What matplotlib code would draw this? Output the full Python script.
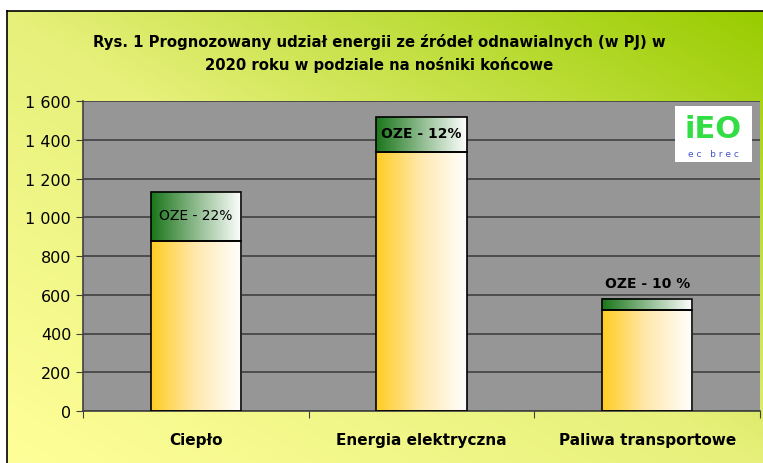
import numpy as np
import matplotlib.pyplot as plt
from matplotlib.colors import LinearSegmentedColormap
from matplotlib.patches import Rectangle

# data (PJ)
categories = ["Ciepło", "Energia elektryczna", "Paliwa transportowe"]
base_values = [880, 1335, 520]
oze_values = [250, 180, 60]
oze_labels = ["OZE - 22%", "OZE - 12%", "OZE - 10 %"]
yticks = [0, 200, 400, 600, 800, 1000, 1200, 1400, 1600]

title = ("Rys. 1 Prognozowany udział energii ze źródeł odnawialnych (w PJ) w\n"
         "2020 roku w podziale na nośniki końcowe")

plt.rcParams['font.family'] = ['DejaVu Sans']

fig = plt.figure(figsize=(7.63, 4.64), dpi=100)
fig.patch.set_facecolor("white")

# background panel with diagonal yellow->green gradient
bg = fig.add_axes([7 / 763, 0, 756 / 763, 452 / 464])
xx, yy = np.meshgrid(np.linspace(0, 1, 200), np.linspace(1, 0, 200))
bg_cmap = LinearSegmentedColormap.from_list("bg", ["#FFFF99", "#E6F07A", "#99CC00"])
bg.imshow((xx + yy) / 2, cmap=bg_cmap, extent=[0, 1, 0, 1], aspect="auto", vmin=0, vmax=1)
bg.set_xticks([])
bg.set_yticks([])
for s in ["right", "bottom"]:
    bg.spines[s].set_visible(False)
for s in ["left", "top"]:
    bg.spines[s].set_color("black")
    bg.spines[s].set_linewidth(1.2)

fig.text(0.497, 0.884, title, ha="center", va="center", fontsize=10.7,
         fontweight="bold", linespacing=1.55)

ax = fig.add_axes([83 / 763, 52 / 464, 677 / 763, 310 / 464])
ax.set_facecolor("#969696")
ax.set_xlim(-0.5, len(categories) - 0.5)
ax.set_ylim(0, 1600)
ax.set_yticks(yticks)
ax.set_yticklabels([f"{v:,}".replace(",", " ") for v in yticks], fontsize=11.5)
ax.yaxis.grid(True, color="#404040", linewidth=1.2)
ax.set_axisbelow(True)
ax.set_xticks(np.arange(len(categories) + 1) - 0.5, minor=False)
ax.set_xticklabels([])
ax.set_xticks(np.arange(len(categories)), minor=True)
ax.set_xticklabels(categories, minor=True, fontsize=11, fontweight="bold")
ax.tick_params(axis="x", which="minor", length=0, pad=15)
ax.tick_params(axis="x", which="major", length=5, color="#404040")
ax.tick_params(axis="y", length=5, color="#404040")
for s in ["top", "right"]:
    ax.spines[s].set_visible(False)
ax.spines["left"].set_color("#404040")
ax.spines["bottom"].set_color("#404040")
ax.spines["left"].set_linewidth(1.2)
ax.spines["bottom"].set_linewidth(1.2)

yellow_cmap = LinearSegmentedColormap.from_list("yel", ["#FFCC22", "#FFE9B0", "#FFFFFF"])
green_cmap = LinearSegmentedColormap.from_list("grn", ["#1A761A", "#8FBB8F", "#FFFFFF"])
grad = np.linspace(0, 1, 256).reshape(1, -1)
width = 0.4

for i, (b, o) in enumerate(zip(base_values, oze_values)):
    x0 = i - width / 2
    ax.imshow(grad, cmap=yellow_cmap, extent=[x0, x0 + width, 0, b],
              aspect="auto", zorder=2)
    ax.imshow(grad, cmap=green_cmap, extent=[x0, x0 + width, b, b + o],
              aspect="auto", zorder=2)
    ax.add_patch(Rectangle((x0, 0), width, b, fill=False, edgecolor="black",
                           linewidth=1.2, zorder=3))
    ax.add_patch(Rectangle((x0, b), width, o, fill=False, edgecolor="black",
                           linewidth=1.2, zorder=3))

ax.set_xlim(-0.5, len(categories) - 0.5)
ax.set_ylim(0, 1600)

# OZE labels
ax.text(0, base_values[0] + oze_values[0] / 2 + 5, oze_labels[0], ha="center",
        va="center", fontsize=10, zorder=4)
ax.text(1, base_values[1] + oze_values[1] / 2 + 10, oze_labels[1], ha="center",
        va="center", fontsize=10, fontweight="bold", zorder=4)
ax.text(2, base_values[2] + oze_values[2] + 82, oze_labels[2], ha="center",
        va="center", fontsize=10, fontweight="bold", zorder=4)

# logo box
logo = fig.add_axes([675 / 763, (464 - 163) / 464, 77 / 763, 56 / 464])
logo.set_facecolor("white")
logo.set_xticks([])
logo.set_yticks([])
for s in logo.spines.values():
    s.set_visible(False)
logo.text(0.5, 0.6, "iEO", ha="center", va="center", fontsize=22,
          fontweight="bold", color="#33DD44")
logo.text(0.5, 0.15, "e c   b r e c", ha="center", va="center", fontsize=6.5,
          color="#4455CC")

fig.savefig("out.png", dpi=100)
